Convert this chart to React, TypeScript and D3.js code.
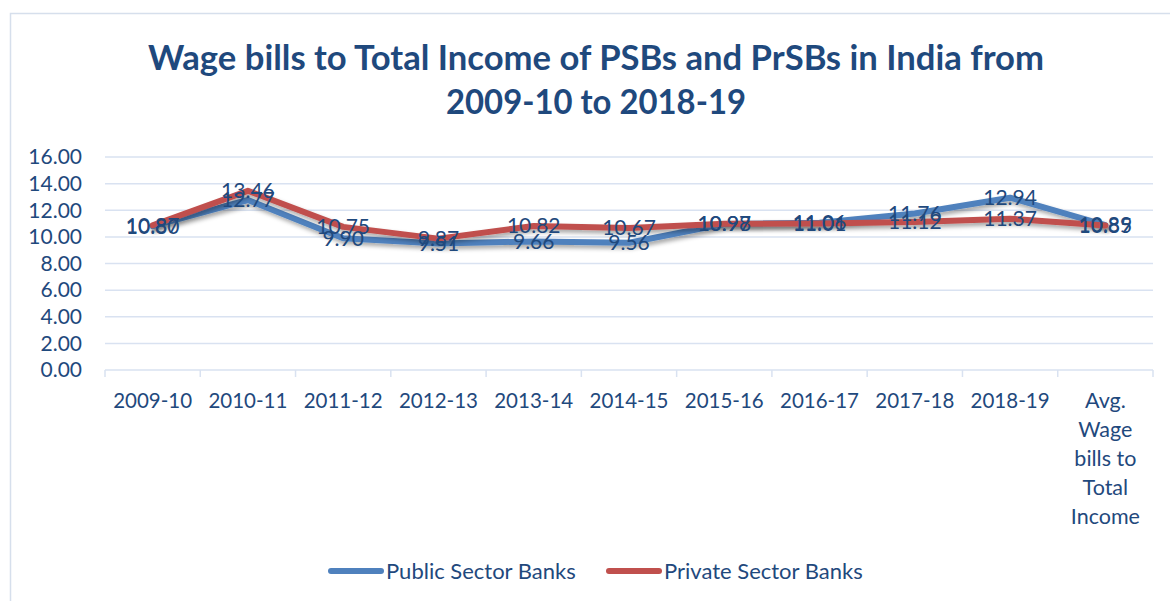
import React from "react";
import * as d3 from "d3";

const categories = [
  "2009-10", "2010-11", "2011-12", "2012-13", "2013-14", "2014-15",
  "2015-16", "2016-17", "2017-18", "2018-19", "Avg. Wage bills to Total Income",
];
const publicBanks = [10.8, 12.77, 9.9, 9.51, 9.66, 9.56, 10.97, 11.06, 11.76, 12.94, 10.89];
const privateBanks = [10.87, 13.46, 10.75, 9.87, 10.82, 10.67, 10.98, 11.01, 11.12, 11.37, 10.85];
const yTicks = [0, 2, 4, 6, 8, 10, 12, 14, 16];
const avgLabelLines = ["Avg.", "Wage", "bills to", "Total", "Income"];

const W = 1170;
const H = 601;
const FONT = "Lato, 'Open Sans', sans-serif";
const TEXT = "#1F497D";
const BLUE = "#4F81BD";
const RED = "#C0504D";
const GRID = "#D9E2F1";

export default function App() {
  const x = d3.scaleBand<string>().domain(categories).range([105, 1153]);
  const y = d3.scaleLinear().domain([0, 16]).range([370, 157]);
  const cx = (c: string) => (x(c) as number) + x.bandwidth() / 2;
  const line = d3
    .line<number>()
    .x((_, i) => cx(categories[i]))
    .y((v) => y(v));

  const series = [
    { name: "Public Sector Banks", values: publicBanks, color: BLUE },
    { name: "Private Sector Banks", values: privateBanks, color: RED },
  ];

  return (
    <svg
      width={W}
      height={H}
      style={{ position: "absolute", left: 0, top: 0, background: "#fff" }}
      fontFamily={FONT}
    >
      <defs>
        <filter id="lineShadow" x="-5%" y="-20%" width="110%" height="160%">
          <feDropShadow dx="2" dy="3" stdDeviation="2" floodColor="#000" floodOpacity="0.35" />
        </filter>
      </defs>
      <rect x={0} y={0} width={W} height={H} fill="#fff" />
      <rect x={10.5} y={13.5} width={W + 20} height={H + 20} fill="none" stroke="#D6DFEC" strokeWidth={1.5} />

      <text
        x={596}
        y={70}
        textAnchor="middle"
        fontSize={34}
        fontWeight={700}
        fill={TEXT}
        textLength={896}
        lengthAdjust="spacingAndGlyphs"
      >
        Wage bills to Total Income of PSBs and PrSBs in India from
      </text>
      <text
        x={596}
        y={114}
        textAnchor="middle"
        fontSize={34}
        fontWeight={700}
        fill={TEXT}
        textLength={300}
        lengthAdjust="spacingAndGlyphs"
      >
        2009-10 to 2018-19
      </text>

      {yTicks.map((t) => (
        <g key={t}>
          {t > 0 && (
            <line x1={105} x2={1153} y1={y(t)} y2={y(t)} stroke={GRID} strokeWidth={1.5} />
          )}
          <text x={82} y={y(t)} dy="0.35em" textAnchor="end" fontSize={21} fill={TEXT}>
            {t.toFixed(2)}
          </text>
        </g>
      ))}
      <line x1={105} x2={1153} y1={y(0)} y2={y(0)} stroke={GRID} strokeWidth={1.5} />
      {categories.concat([""]).map((c, i) => {
        const xx = 105 + i * x.bandwidth();
        return <line key={i} x1={xx} x2={xx} y1={y(0)} y2={y(0) + 7} stroke={GRID} strokeWidth={1.5} />;
      })}

      {categories.map((c, i) =>
        i < categories.length - 1 ? (
          <text key={c} x={cx(c)} y={408} textAnchor="middle" fontSize={20.5} fill={TEXT}>
            {c}
          </text>
        ) : (
          <text key={c} x={cx(c)} y={408} textAnchor="middle" fontSize={21.5} fill={TEXT}>
            {avgLabelLines.map((l, j) => (
              <tspan key={j} x={cx(c)} dy={j === 0 ? 0 : 29}>
                {l}
              </tspan>
            ))}
          </text>
        )
      )}

      {series.map((s) => (
        <path
          key={s.name}
          d={line(s.values) as string}
          fill="none"
          stroke={s.color}
          strokeWidth={6}
          strokeLinejoin="round"
          strokeLinecap="round"
          filter="url(#lineShadow)"
        />
      ))}

      {series.map((s) =>
        s.values.map((v, i) => (
          <text
            key={s.name + i}
            x={cx(categories[i])}
            y={y(v)}
            dy="0.35em"
            textAnchor="middle"
            fontSize={21}
            fill={TEXT}
          >
            {v.toFixed(2)}
          </text>
        ))
      )}

      <g transform="translate(0,571)">
        <line x1={331} x2={381} y1={0} y2={0} stroke={BLUE} strokeWidth={6} strokeLinecap="round" />
        <text x={386} y={0} dy="0.35em" fontSize={22} fill={TEXT}>
          Public Sector Banks
        </text>
        <line x1={609} x2={659} y1={0} y2={0} stroke={RED} strokeWidth={6} strokeLinecap="round" />
        <text x={664} y={0} dy="0.35em" fontSize={22} fill={TEXT}>
          Private Sector Banks
        </text>
      </g>
    </svg>
  );
}
